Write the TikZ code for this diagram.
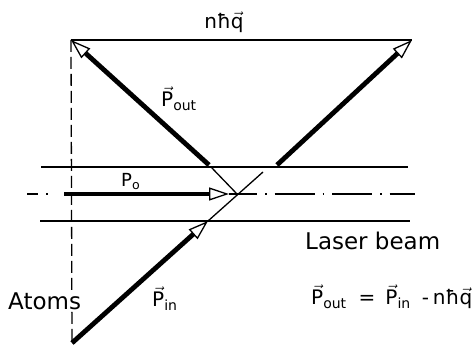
\documentclass[tikz,border=0pt]{standalone}
\usepackage{amsmath}
\usepackage{fontspec}
\setmainfont{DejaVu Sans}
\usetikzlibrary{arrows.meta}

\begin{document}
\begin{tikzpicture}[x=1pt,y=1pt,
    momentum/.style={line width=4.8pt,-{Triangle[fill=white,length=20pt,width=13pt,line width=1.3pt]}},
    thinline/.style={line width=1.3pt},
    centerline/.style={line width=1.3pt,dash pattern=on 40pt off 8pt on 1.5pt off 8pt},
    lbl/.style={inner sep=0pt,font=\fontsize{20}{24}\selectfont},
    word/.style={inner sep=0pt,font=\fontsize{23}{27}\selectfont}]
  \useasboundingbox (0,0) rectangle (474,348);

  % Points of the momentum triangle
  \coordinate (corner) at (71,308);
  \coordinate (tip) at (412,308);
  \coordinate (cross) at (237,154);
  \coordinate (atom) at (72,5);
  \coordinate (inhead) at (208,127);
  \coordinate (inend) at (263,176);
  \coordinate (outfoot) at (209,183);
  \coordinate (outend) at (211,181);
  \coordinate (rightfoot) at (277,183);
  \coordinate (zerofoot) at (64,154);
  \coordinate (zerohead) at (229,154);

  % Laser beam
  \draw[thinline] (41,181) -- (408,181);
  \draw[thinline] (40,127) -- (410,127);
  \draw[centerline,dash phase=29pt] (27,154) -- (54,154);
  \draw[centerline,dash phase=20pt] (cross) -- (415,154);

  % Atom axis
  \draw[thinline,dash pattern=on 12pt off 5pt] (corner) -- (atom);

  % Momenta
  \draw[thinline] (corner) -- (tip);
  \draw[momentum] (zerofoot) -- (zerohead);
  \draw[thinline] (zerohead) -- (cross);
  \draw[momentum] (atom) -- (inhead);
  \draw[thinline] (inhead) -- (inend);
  \draw[thinline] (cross) -- (outend);
  \draw[momentum] (outfoot) -- (corner);
  \draw[momentum] (rightfoot) -- (tip);

  % Labels
  \node[lbl,anchor=base] (nhq) at (224,319) {nħ$\vec{\text{q}}$};
  \node[lbl,anchor=base west] (pout) at (161,241) {$\vec{\text{P}}_{\text{out}}$};
  \node[lbl,anchor=base west,font=\fontsize{18}{22}\selectfont] (pzero) at (121,161) {P$_{\text{o}}$};
  \node[word,anchor=base west] (laser) at (305,98) {Laser beam};
  \node[word,anchor=base west,fill=white] (atoms) at (8,38) {Atoms};
  \node[lbl,anchor=base west] (pin) at (152,41) {$\vec{\text{P}}_{\text{in}}$};
  \node[lbl,anchor=base west] (law) at (311,43)
    {$\vec{\text{P}}_{\text{out}}$\hspace{12pt}=\hspace{10pt}$\vec{\text{P}}_{\text{in}}$\hspace{11pt}-\hspace{4pt}nħ$\vec{\text{q}}$};
\end{tikzpicture}
\end{document}
